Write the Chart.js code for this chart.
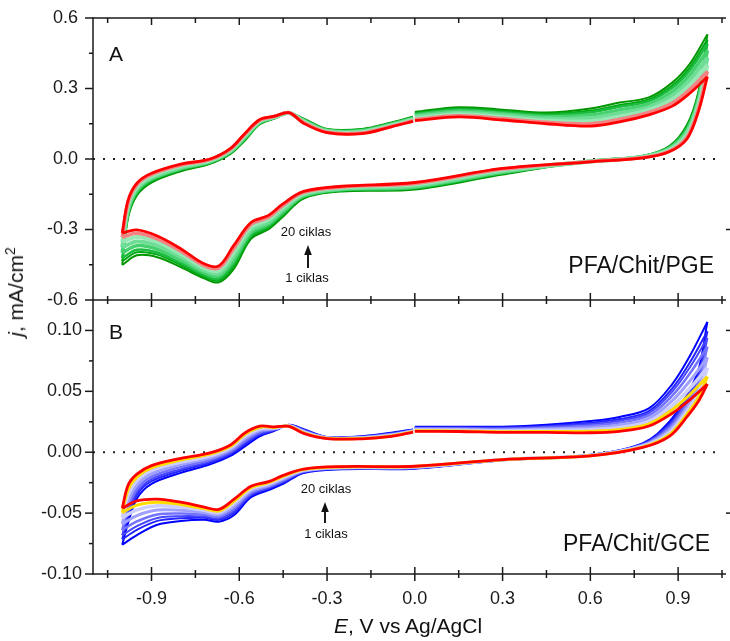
<!DOCTYPE html>
<html><head><meta charset="utf-8">
<script src="https://cdn.jsdelivr.net/npm/chart.js@4.4.0/dist/chart.umd.min.js"></script>
<style>
html,body{margin:0;padding:0;background:#fff;}
#wrap{position:relative;width:730px;height:641px;overflow:hidden;font-family:"Liberation Sans",Arial,sans-serif;background:#fff;}
canvas{position:absolute;left:0;top:0;}
.ttl{position:absolute;font-size:21px;color:#111;white-space:nowrap;line-height:21px;}
#xt{left:408px;top:615px;transform:translateX(-50%);}
#yt{left:17px;top:292px;transform:translate(-50%,-50%) rotate(-90deg);}
.sup{font-size:14px;position:relative;top:-8px;}
</style></head><body>
<div id="wrap">
<canvas id="cA" width="730" height="641"></canvas>
<canvas id="cB" width="730" height="641"></canvas>
<div class="ttl" id="yt"><i>j</i>, mA/cm<span class="sup">2</span></div>
<div class="ttl" id="xt"><i>E</i>, V vs Ag/AgCl</div>
</div>
<script>
// ---------- DATA ----------
// Potential (V vs Ag/AgCl) in scan order: 0 -> +1.0 (anodic), +1.0 -> -1.0 (cathodic), -1.0 -> 0
const potentialV = [0.0, 0.15, 0.3, 0.45, 0.6, 0.7, 0.8, 0.88, 0.94, 1.0,
  0.97, 0.93, 0.87, 0.78, 0.6, 0.3, 0.0, -0.25, -0.38, -0.45, -0.5, -0.56, -0.62, -0.67, -0.72, -0.8, -0.88, -0.95, -1.0,
  -0.98, -0.95, -0.9, -0.8, -0.7, -0.63, -0.58, -0.53, -0.48, -0.43, -0.38, -0.3, -0.18, -0.08, -0.006];

const cycleNumbers = [1, 2, 3, 5, 8, 12, 16, 20];

// Panel A: PFA/Chit/PGE, j in mA/cm2
const pgeCycle1 = [0.200, 0.220, 0.210, 0.198, 0.215, 0.240, 0.262, 0.325, 0.405, 0.530,
  0.290, 0.145, 0.055, 0.014, -0.008, -0.066, -0.130, -0.138, -0.168, -0.245, -0.299, -0.340, -0.470, -0.525, -0.508, -0.460, -0.418, -0.410, -0.451,
  -0.250, -0.155, -0.100, -0.052, -0.020, 0.022, 0.080, 0.148, 0.172, 0.195, 0.172, 0.128, 0.128, 0.155, 0.180];
const pgeCycle2 = [0.196, 0.215, 0.205, 0.192, 0.206, 0.230, 0.253, 0.313, 0.390, 0.508,
  0.280, 0.138, 0.052, 0.013, -0.008, -0.063, -0.126, -0.135, -0.164, -0.238, -0.292, -0.332, -0.458, -0.517, -0.501, -0.451, -0.407, -0.397, -0.435,
  -0.241, -0.149, -0.095, -0.048, -0.018, 0.025, 0.084, 0.150, 0.173, 0.195, 0.170, 0.126, 0.126, 0.153, 0.178];
const pgeCycle3 = [0.192, 0.211, 0.200, 0.187, 0.199, 0.222, 0.246, 0.303, 0.378, 0.490,
  0.271, 0.132, 0.050, 0.012, -0.009, -0.060, -0.123, -0.133, -0.161, -0.233, -0.286, -0.325, -0.448, -0.510, -0.494, -0.443, -0.398, -0.386, -0.421,
  -0.234, -0.144, -0.091, -0.045, -0.016, 0.027, 0.087, 0.152, 0.174, 0.195, 0.168, 0.124, 0.124, 0.151, 0.176];
const pgeCycle5 = [0.186, 0.204, 0.193, 0.180, 0.187, 0.209, 0.234, 0.287, 0.358, 0.462,
  0.258, 0.122, 0.046, 0.011, -0.010, -0.056, -0.119, -0.130, -0.157, -0.224, -0.277, -0.313, -0.432, -0.498, -0.484, -0.430, -0.384, -0.369, -0.399,
  -0.222, -0.135, -0.085, -0.041, -0.012, 0.031, 0.091, 0.156, 0.176, 0.196, 0.164, 0.122, 0.120, 0.148, 0.172];
const pgeCycle8 = [0.180, 0.197, 0.186, 0.172, 0.174, 0.195, 0.221, 0.270, 0.336, 0.431,
  0.243, 0.112, 0.042, 0.009, -0.010, -0.052, -0.114, -0.126, -0.152, -0.215, -0.267, -0.302, -0.415, -0.487, -0.474, -0.417, -0.369, -0.351, -0.376,
  -0.209, -0.126, -0.079, -0.036, -0.009, 0.035, 0.097, 0.159, 0.178, 0.196, 0.161, 0.119, 0.117, 0.145, 0.169];
const pgeCycle12 = [0.173, 0.190, 0.178, 0.163, 0.161, 0.181, 0.209, 0.253, 0.315, 0.400,
  0.229, 0.102, 0.038, 0.008, -0.011, -0.047, -0.108, -0.122, -0.146, -0.205, -0.257, -0.290, -0.398, -0.475, -0.463, -0.404, -0.353, -0.332, -0.353,
  -0.196, -0.118, -0.072, -0.030, -0.006, 0.039, 0.102, 0.162, 0.179, 0.196, 0.158, 0.116, 0.114, 0.142, 0.166];
const pgeCycle16 = [0.168, 0.184, 0.172, 0.156, 0.150, 0.169, 0.198, 0.238, 0.296, 0.373,
  0.216, 0.093, 0.034, 0.006, -0.011, -0.043, -0.104, -0.119, -0.142, -0.197, -0.248, -0.279, -0.383, -0.464, -0.454, -0.392, -0.340, -0.316, -0.333,
  -0.185, -0.110, -0.066, -0.026, -0.003, 0.042, 0.106, 0.165, 0.181, 0.197, 0.155, 0.114, 0.111, 0.139, 0.163];
const pgeCycle20 = [0.163, 0.179, 0.166, 0.150, 0.140, 0.158, 0.188, 0.225, 0.280, 0.350,
  0.205, 0.085, 0.031, 0.005, -0.012, -0.040, -0.100, -0.116, -0.138, -0.190, -0.240, -0.270, -0.370, -0.455, -0.446, -0.382, -0.328, -0.302, -0.315,
  -0.175, -0.103, -0.061, -0.022, 0.000, 0.045, 0.110, 0.168, 0.182, 0.197, 0.152, 0.112, 0.108, 0.137, 0.160];

// Panel B: PFA/Chit/GCE, j in mA/cm2
const gceCycle1 = [0.0209, 0.0210, 0.0210, 0.0225, 0.0256, 0.0290, 0.0360, 0.0560, 0.0790, 0.1070,
  0.0680, 0.0470, 0.0250, 0.0075, -0.0020, -0.0065, -0.0135, -0.0140, -0.0170, -0.0260, -0.0310, -0.0370, -0.0520, -0.0570, -0.0555, -0.0565, -0.0595, -0.0680, -0.0760,
  -0.0580, -0.0380, -0.0260, -0.0170, -0.0100, -0.0030, 0.0050, 0.0130, 0.0175, 0.0225, 0.0190, 0.0125, 0.0132, 0.0160, 0.0187];
const gceCycle2 = [0.0203, 0.0204, 0.0203, 0.0216, 0.0242, 0.0272, 0.0338, 0.0524, 0.0736, 0.0994,
  0.0641, 0.0443, 0.0232, 0.0070, -0.0022, -0.0064, -0.0132, -0.0137, -0.0165, -0.0250, -0.0300, -0.0357, -0.0501, -0.0555, -0.0539, -0.0542, -0.0564, -0.0638, -0.0715,
  -0.0534, -0.0350, -0.0238, -0.0152, -0.0086, -0.0017, 0.0067, 0.0143, 0.0180, 0.0223, 0.0185, 0.0123, 0.0129, 0.0156, 0.0184];
const gceCycle3 = [0.0199, 0.0200, 0.0198, 0.0209, 0.0231, 0.0259, 0.0322, 0.0498, 0.0696, 0.0937,
  0.0612, 0.0423, 0.0219, 0.0066, -0.0023, -0.0064, -0.0130, -0.0134, -0.0162, -0.0242, -0.0292, -0.0347, -0.0486, -0.0544, -0.0528, -0.0525, -0.0540, -0.0607, -0.0682,
  -0.0499, -0.0328, -0.0221, -0.0139, -0.0075, -0.0007, 0.0079, 0.0152, 0.0184, 0.0222, 0.0181, 0.0122, 0.0126, 0.0152, 0.0181];
const gceCycle5 = [0.0194, 0.0194, 0.0191, 0.0200, 0.0218, 0.0243, 0.0302, 0.0464, 0.0646, 0.0866,
  0.0576, 0.0398, 0.0202, 0.0061, -0.0024, -0.0063, -0.0127, -0.0131, -0.0157, -0.0232, -0.0283, -0.0334, -0.0468, -0.0530, -0.0513, -0.0503, -0.0511, -0.0568, -0.0640,
  -0.0456, -0.0300, -0.0200, -0.0122, -0.0062, 0.0006, 0.0094, 0.0164, 0.0188, 0.0220, 0.0176, 0.0120, 0.0123, 0.0148, 0.0178];
const gceCycle8 = [0.0188, 0.0187, 0.0183, 0.0190, 0.0201, 0.0223, 0.0277, 0.0423, 0.0585, 0.0779,
  0.0532, 0.0367, 0.0182, 0.0055, -0.0026, -0.0062, -0.0124, -0.0127, -0.0152, -0.0220, -0.0271, -0.0319, -0.0446, -0.0513, -0.0495, -0.0477, -0.0475, -0.0520, -0.0589,
  -0.0403, -0.0266, -0.0175, -0.0102, -0.0046, 0.0021, 0.0113, 0.0178, 0.0194, 0.0218, 0.0170, 0.0118, 0.0119, 0.0143, 0.0174];
const gceCycle12 = [0.0182, 0.0180, 0.0175, 0.0179, 0.0185, 0.0203, 0.0253, 0.0382, 0.0524, 0.0693,
  0.0488, 0.0337, 0.0161, 0.0049, -0.0027, -0.0061, -0.0120, -0.0124, -0.0146, -0.0208, -0.0260, -0.0303, -0.0424, -0.0496, -0.0477, -0.0450, -0.0440, -0.0473, -0.0538,
  -0.0351, -0.0232, -0.0149, -0.0081, -0.0030, 0.0037, 0.0131, 0.0193, 0.0199, 0.0215, 0.0164, 0.0115, 0.0116, 0.0138, 0.0171];
const gceCycle16 = [0.0176, 0.0175, 0.0169, 0.0170, 0.0172, 0.0186, 0.0232, 0.0349, 0.0473, 0.0621,
  0.0451, 0.0312, 0.0144, 0.0044, -0.0029, -0.0061, -0.0117, -0.0121, -0.0142, -0.0198, -0.0250, -0.0291, -0.0406, -0.0482, -0.0463, -0.0429, -0.0410, -0.0434, -0.0496,
  -0.0307, -0.0204, -0.0128, -0.0064, -0.0016, 0.0049, 0.0147, 0.0205, 0.0204, 0.0214, 0.0159, 0.0114, 0.0113, 0.0134, 0.0168];
const gceCycle20 = [0.0172, 0.0170, 0.0163, 0.0163, 0.0160, 0.0172, 0.0215, 0.0320, 0.0430, 0.0560,
  0.0420, 0.0290, 0.0130, 0.0040, -0.0030, -0.0060, -0.0115, -0.0118, -0.0138, -0.0190, -0.0242, -0.0280, -0.0390, -0.0470, -0.0450, -0.0410, -0.0385, -0.0400, -0.0460,
  -0.0270, -0.0180, -0.0110, -0.0050, -0.0005, 0.0060, 0.0160, 0.0215, 0.0208, 0.0212, 0.0155, 0.0112, 0.0110, 0.0130, 0.0165];

const pgeCycles = [pgeCycle1, pgeCycle2, pgeCycle3, pgeCycle5, pgeCycle8, pgeCycle12, pgeCycle16, pgeCycle20];
const gceCycles = [gceCycle1, gceCycle2, gceCycle3, gceCycle5, gceCycle8, gceCycle12, gceCycle16, gceCycle20];

// Tick values
const xTickValues = [-0.9, -0.6, -0.3, 0.0, 0.3, 0.6, 0.9];
const xMinorValues = [-1.05, -0.75, -0.45, -0.15, 0.15, 0.45, 0.75, 1.05];
const pgeTickValues = [-0.6, -0.3, 0.0, 0.3, 0.6];
const pgeMinorValues = [-0.45, -0.15, 0.15, 0.45];
const gceTickValues = [-0.10, -0.05, 0.00, 0.05, 0.10];
const gceMinorValues = [-0.075, -0.025, 0.025, 0.075];

// ---------- STYLE ----------
const FONT = '"Liberation Sans", Arial, sans-serif';
const pgeColors = ['rgb(0,150,0)', 'rgb(0,168,20)', 'rgb(25,188,60)', 'rgb(70,208,110)', 'rgb(110,222,150)', 'rgb(150,232,180)', 'rgb(244,130,130)', 'rgb(255,0,0)'];
const pgeWidths = [2, 2, 2.5, 3.5, 4, 4, 3.5, 2.8];
const gceColors = ['rgb(0,0,255)', 'rgb(35,35,255)', 'rgb(70,70,255)', 'rgb(115,115,255)', 'rgb(160,160,255)', 'rgb(205,205,255)', 'rgb(255,220,0)', 'rgb(255,0,0)'];
const gceWidths = [2, 2, 2, 2.5, 3, 3.5, 3, 2.8];

function buildDatasets(cycles, colors, widths) {
  const ds = [];
  cycles.forEach((j, k) => {
    const lower = [], upper = [];
    for (let i = 9; i <= 28; i++) lower.push({x: potentialV[i], y: j[i]});
    for (let i = 28; i <= 43; i++) upper.push({x: potentialV[i], y: j[i]});
    upper.push({x: -0.003, y: null});
    for (let i = 0; i <= 9; i++) upper.push({x: potentialV[i], y: j[i]});
    const common = {showLine: true, pointRadius: 0, borderColor: colors[k], borderWidth: widths[k],
      tension: 0.35, spanGaps: false, order: 100 - cycleNumbers[k], fill: false};
    ds.push(Object.assign({label: 'cycle ' + cycleNumbers[k] + ' cathodic', data: lower}, common));
    ds.push(Object.assign({label: 'cycle ' + cycleNumbers[k] + ' anodic', data: upper}, common));
  });
  ds.push({label: 'zero', data: [{x: -1.1, y: 0}, {x: 1.05, y: 0}], showLine: true, pointRadius: 0,
    borderColor: '#222', borderWidth: 2, borderDash: [2, 8], tension: 0, order: 1000});
  return ds;
}

function seg(ctx, x1, y1, x2, y2) { ctx.beginPath(); ctx.moveTo(x1, y1); ctx.lineTo(x2, y2); ctx.stroke(); }

const decorPlugin = {
  id: 'decor',
  afterDraw(chart, args, o) {
    const ctx = chart.ctx, a = chart.chartArea, ys = chart.scales.y, xs = chart.scales.x;
    ctx.save();
    ctx.strokeStyle = '#1a1a1a';
    ctx.lineWidth = 1.5;
    seg(ctx, a.left, a.top - (o.topEdge ? 0.75 : 0), a.left, a.bottom + 0.75);
    if (o.topEdge) seg(ctx, a.left, a.top, 726, a.top);
    seg(ctx, a.left, a.bottom, 726, a.bottom);
    o.yMajor.forEach(v => { const p = ys.getPixelForValue(v); seg(ctx, a.left - 8, p, a.left, p); });
    o.yMinor.forEach(v => { const p = ys.getPixelForValue(v); seg(ctx, a.left - 4, p, a.left, p); });
    o.rightTicks.forEach(v => { const p = ys.getPixelForValue(v); seg(ctx, 726, p, 730, p); });
    xTickValues.forEach(v => {
      const p = xs.getPixelForValue(v);
      if (o.topEdge) seg(ctx, p, a.top, p, a.top + 7);
      seg(ctx, p, a.bottom - 7, p, a.bottom + 7);
    });
    xMinorValues.forEach(v => {
      const p = xs.getPixelForValue(v);
      if (o.topEdge) seg(ctx, p, a.top, p, a.top + 5);
      seg(ctx, p, a.bottom - 4, p, a.bottom + 4);
    });
    // texts
    ctx.fillStyle = '#111';
    ctx.textBaseline = 'middle';
    ctx.textAlign = 'center';
    ctx.font = '21px ' + FONT;
    ctx.fillText(o.letter[0], o.letter[1], o.letter[2]);
    ctx.textAlign = 'right';
    ctx.font = '23px ' + FONT;
    ctx.fillText(o.name[0], o.name[1], o.name[2]);
    ctx.textAlign = 'center';
    ctx.font = '13px ' + FONT;
    ctx.fillText('20 ciklas', o.c20[0], o.c20[1]);
    ctx.fillText('1 ciklas', o.c1[0], o.c1[1]);
    // arrow
    const [ax, tail, tip] = o.arrow;
    ctx.lineWidth = 2;
    seg(ctx, ax, tail, ax, tip + 8);
    ctx.beginPath();
    ctx.moveTo(ax, tip); ctx.lineTo(ax - 3.8, tip + 10); ctx.lineTo(ax + 3.8, tip + 10); ctx.closePath();
    ctx.fill();
    ctx.restore();
  }
};

function makeChart(id, datasets, yCfg, xVisible, padding, decor) {
  return new Chart(document.getElementById(id), {
    type: 'scatter',
    data: {datasets},
    plugins: [decorPlugin],
    options: {
      responsive: false, animation: false, events: [], devicePixelRatio: 1,
      layout: {padding, autoPadding: false},
      plugins: {legend: {display: false}, tooltip: {enabled: false}, decor},
      scales: {
        x: {
          type: 'linear', min: -1.1, max: 1.05, position: 'bottom', display: xVisible,
          afterBuildTicks: s => { s.ticks = xTickValues.map(v => ({value: v})); },
          afterFit: s => { s.height = xVisible ? 67 : 0; s.paddingTop = 0; s.paddingBottom = 0; s.paddingLeft = 0; s.paddingRight = 0; },
          grid: {display: false, drawTicks: false}, border: {display: false},
          ticks: {font: {size: 18, family: FONT}, color: '#1a1a1a', padding: 14, maxRotation: 0,
            callback: v => v.toFixed(1)}
        },
        y: Object.assign({
          type: 'linear', position: 'left',
          afterFit: s => { s.width = 93; s.paddingTop = 0; s.paddingBottom = 0; },
          grid: {display: false, drawTicks: false}, border: {display: false}
        }, yCfg)
      }
    }
  });
}

makeChart('cA', buildDatasets(pgeCycles, pgeColors, pgeWidths), {
  min: -0.6, max: 0.6,
  afterBuildTicks: s => { s.ticks = pgeTickValues.map(v => ({value: v})); },
  ticks: {font: {size: 18, family: FONT}, color: '#1a1a1a', padding: 15, callback: v => v.toFixed(1)}
}, false, {top: 18, bottom: 341, left: 0, right: 8}, {
  topEdge: true, yMajor: pgeTickValues, yMinor: pgeMinorValues, rightTicks: [0.3, -0.3],
  letter: ['A', 116, 55], name: ['PFA/Chit/PGE', 714, 267],
  c20: [306, 232], c1: [307, 278], arrow: [308, 268, 245]
});

makeChart('cB', buildDatasets(gceCycles, gceColors, gceWidths), {
  min: -0.10, max: 0.125,
  afterBuildTicks: s => { s.ticks = gceTickValues.map(v => ({value: v})); },
  ticks: {font: {size: 18, family: FONT}, color: '#1a1a1a', padding: 11, callback: v => v.toFixed(2)}
}, true, {top: 300, bottom: 0, left: 0, right: 8}, {
  topEdge: false, yMajor: gceTickValues, yMinor: gceMinorValues, rightTicks: [0.1, 0.05, -0.05],
  letter: ['B', 116, 333], name: ['PFA/Chit/GCE', 710, 545],
  c20: [326, 489], c1: [326, 534], arrow: [325, 523, 502]
});
</script>
</body></html>
